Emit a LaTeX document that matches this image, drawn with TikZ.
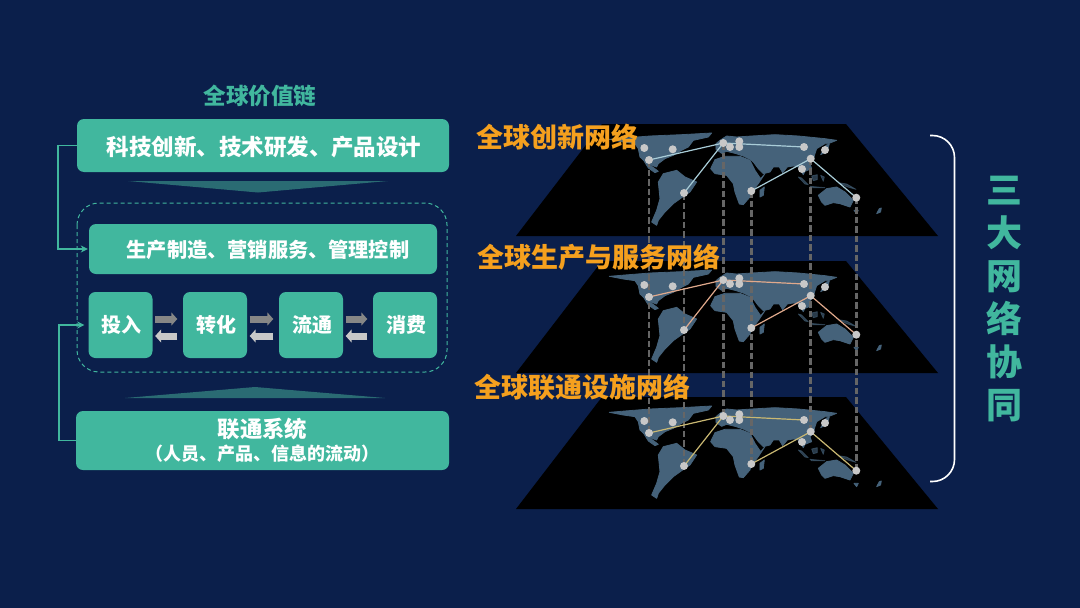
\documentclass[tikz,border=0pt]{standalone}
\usepackage{fontspec}
\setmainfont{Noto Sans CJK SC}
\usetikzlibrary{positioning,arrows.meta}

\definecolor{bgblue}{HTML}{0B1F4B}
\definecolor{teal}{HTML}{41B79E}
\definecolor{wedgeteal}{HTML}{2A6B73}
\definecolor{orangetxt}{HTML}{F5A01E}
\definecolor{landblue}{HTML}{45627A}
\definecolor{dotgray}{HTML}{C8C8C8}
\definecolor{dashgray}{HTML}{666666}
\definecolor{linkA}{HTML}{A9CDD8}
\definecolor{linkB}{HTML}{E0A98C}
\definecolor{linkC}{HTML}{C9B872}

\newcommand{\fsize}[1]{\fontsize{#1}{#1}\bfseries\selectfont}

\tikzset{
    mainbox/.style={fill=teal,text=white,rounded corners=7pt,inner sep=0pt,align=center},
    stagebox/.style={mainbox,minimum width=64pt,minimum height=66pt,font=\fsize{20}},
    netlabel/.style={text=orangetxt,anchor=west,inner sep=0pt,font=\fsize{27}},
    feed/.style={draw=teal,line width=1.5pt,-{Stealth[length=7pt,width=7pt]}},
    fwdarrow/.style={draw=gray!95,line width=7pt,-{Triangle[length=6pt,width=13pt]}},
    backarrow/.style={draw=dotgray,line width=7pt,-{Triangle[length=6pt,width=13pt]}},
    cityline/.style={draw=dashgray,line width=2.6pt,dash pattern=on 6.5pt off 3pt},
    citydot/.style={circle,fill=dotgray,inner sep=0pt,minimum size=8pt},
}

\newcommand{\worldmap}[1]{
    \begin{scope}[shift={(510,385+#1)},x=.3333pt,y=-.3333pt,fill=landblue,draw=landblue,line width=.8pt,line join=round]
        \filldraw (298,82) -- (345,78) -- (420,72) -- (515,68) -- (605,63) -- (595,75) -- (550,85) -- (535,105) -- (515,115) -- (490,130) -- (465,140) -- (445,155) -- (440,165) -- (425,160) -- (415,158) -- (390,135) -- (385,110) -- (375,95) -- (340,90) -- cycle;
        \filldraw (395,135) -- (415,158) -- (428,165) -- (445,178) -- (435,182) -- (415,168) -- cycle;
        \filldraw (445,210) -- (460,185) -- (500,175) -- (525,195) -- (560,210) -- (540,240) -- (525,250) -- (490,275) -- (465,300) -- (445,325) -- (440,340) -- (425,330) -- (440,295) -- (450,260) -- cycle;
        \filldraw (618,112) -- (618,95) -- (630,85) -- (650,72) -- (680,75) -- (725,72) -- (795,68) -- (865,72) -- (945,80) -- (980,85) -- (955,95) -- (945,95) -- (920,110) -- (915,125) -- (910,145) -- (900,155) -- (905,170) -- (885,178) -- (880,188) -- (865,165) -- (850,162) -- (832,165) -- (818,182) -- (808,165) -- (790,165) -- (780,180) -- (760,185) -- (745,170) -- (730,150) -- (722,143) -- (700,132) -- (675,124) -- (650,118) -- (635,124) -- cycle;
        \filldraw (602,170) -- (615,143) -- (645,133) -- (690,133) -- (720,145) -- (735,175) -- (752,200) -- (765,185) -- (745,215) -- (725,240) -- (720,255) -- (700,278) -- (688,276) -- (675,240) -- (670,215) -- (650,190) -- (615,185) -- cycle;
        \filldraw (750,235) -- (763,225) -- (760,250) -- (750,255) -- cycle;
        \filldraw (925,250) -- (950,230) -- (980,225) -- (1005,240) -- (1030,265) -- (1020,285) -- (990,275) -- (970,272) -- (945,280) -- (935,270) -- cycle;
        \filldraw (1032,295) -- (1045,295) -- (1040,305) -- cycle;
        \filldraw (1100,305) -- (1108,290) -- (1114,288) -- (1112,300) -- cycle;
        \begin{scope}[opacity=.6]
            \filldraw (865,195) -- (875,198) -- (895,218) -- (885,216) -- cycle;
            \filldraw (905,192) -- (922,188) -- (922,203) -- (910,206) -- cycle;
            \filldraw (900,223) -- (945,227) -- (905,227) -- cycle;
            \filldraw (932,190) -- (943,195) -- (940,208) -- cycle;
            \filldraw (985,212) -- (1010,216) -- (1038,232) -- (1010,224) -- cycle;
        \end{scope}
        \filldraw (948,100) -- (958,96) -- (952,118) -- (932,128) -- (937,120) -- cycle;
    \end{scope}
}

\begin{document}
\begin{tikzpicture}[x=1pt,y=-1pt]
    \useasboundingbox[fill=bgblue] (0,0) rectangle (1080,608);

    \node[text=teal,inner sep=0pt,font=\fsize{22.6}] (chain) at (260,96) {全球价值链};
    \node[mainbox,minimum width=372pt,minimum height=53pt,text height=23.5pt,text depth=3pt,font=\fsize{22.5}] (tech) at (263,145.5) {\hspace*{2pt}科技创新、技术研发、产品设计};
    \fill[wedgeteal] (128,181) -- (388,181) -- (258,192.5) -- cycle;
    \draw[teal,line width=1pt,dash pattern=on 4pt off 3pt,rounded corners=22pt] (77,203) rectangle (447,372);
    \node[mainbox,minimum width=348pt,minimum height=50pt,text height=20pt,text depth=2.5pt,font=\fsize{20.2}] (prod) at (263,249) {\hspace*{10pt}生产制造、营销服务、管理控制};

    \node[stagebox] (inp) at (120.5,325) {\hspace*{2pt}投入};
    \node[stagebox,right=30.1pt of inp] (conv) {\hspace*{2pt}转化};
    \node[stagebox,right=31.6pt of conv] (flow) {\hspace*{2pt}流通};
    \node[stagebox,right=29.6pt of flow] (cons) {\hspace*{2pt}消费};

    \foreach \from/\to in {inp/conv,conv/flow,flow/cons}{
        \draw[fwdarrow] ([xshift=2.5pt,yshift=6pt]\from.east) -- ([xshift=-5.5pt,yshift=6pt]\to.west);
        \draw[backarrow] ([xshift=-5.5pt,yshift=-11pt]\to.west) -- ([xshift=2.5pt,yshift=-11pt]\from.east);
    }

    \fill[wedgeteal] (125,398) -- (385,398) -- (255,387) -- cycle;
    \node[mainbox,minimum width=373pt,minimum height=59pt] (sys) at (262.5,440.5) {{\fsize{22.4}联通系统}\\[4pt]{\fsize{18}（人员、产品、信息的流动）}};

    \draw[feed] (tech.west) -- ++(-19,0) |- ([xshift=-1pt]prod.west);
    \draw[feed] (sys.west) -- ++(-17,0) |- ([xshift=-4pt]inp.west);

    \foreach \lay/\off in {3/0,2/-136,1/-273}{
        \fill[black] (602,397+\off) -- (846,397+\off) -- (938,509+\off) -- (516,509+\off) -- cycle;
        \worldmap{\off}
        \foreach \city/\cx/\cy in {a/644.3/421,b/649/433,c/672.7/422.3,d/684/466,e/723.3/416,f/730/420,g/739.3/414.3,h/739.3/420,i/751.3/464,j/804/420,k/825/423,l/810.7/431.7,m/802/442,n/856.3/470.7}{
            \coordinate (p\lay\city) at (\cx,\cy+\off);
        }
    }

    \foreach \city in {b,d,e,i,l,n}{
        \draw[cityline] (p1\city) -- (p3\city);
    }

    \foreach \lay/\col in {1/linkA,2/linkB,3/linkC}{
        \foreach \from/\to in {b/e,e/d,e/j,i/l,l/n}{
            \draw[\col,line width=1.2pt] (p\lay\from) -- (p\lay\to);
        }
        \foreach \city in {a,b,c,d,e,f,g,h,i,j,k,l,m,n}{
            \node[citydot] (dot\lay\city) at (p\lay\city) {};
        }
    }

    \node[netlabel] (innov) at (476.5,137) {全球创新网络};
    \node[netlabel] (serv) at (477.5,257) {全球生产与服务网络};
    \node[netlabel] (infra) at (474.5,387) {全球联通设施网络};

    \draw[white,line width=1.6pt,rounded corners=22pt] (930,135.5) -- (954.5,135.5) -- (954.5,481.5) -- (930,481.5);
    \node[text=teal,inner sep=0pt,align=center,font=\fontsize{36}{43}\bfseries\selectfont] (triple) at (1004.5,299) {三\\大\\网\\络\\协\\同};
\end{tikzpicture}
\end{document}
